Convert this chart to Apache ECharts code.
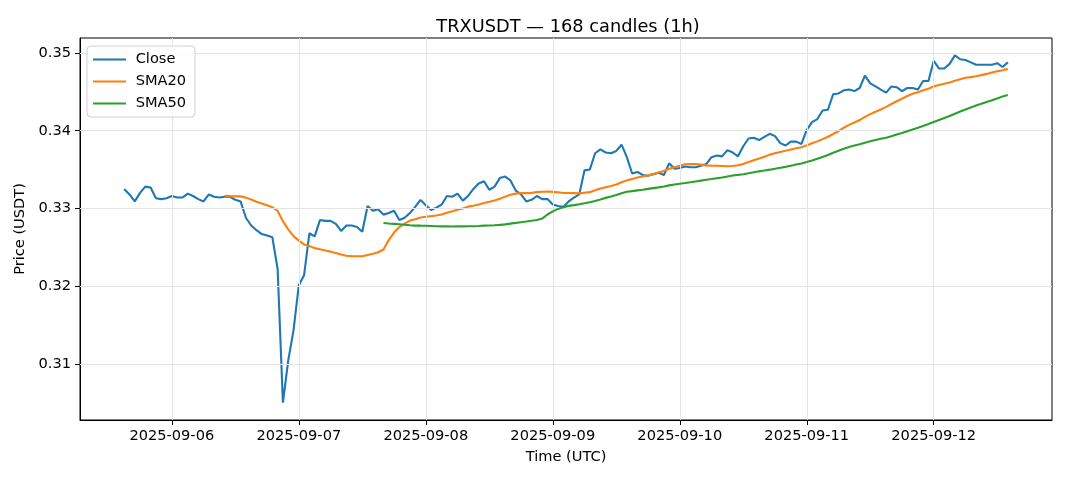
<!DOCTYPE html>
<html>
<head>
<meta charset="utf-8">
<script src="https://cdn.jsdelivr.net/npm/echarts@6/dist/echarts.min.js"></script>
<style>
html,body{margin:0;padding:0;background:#fff;}
#chart{width:1068px;height:481px;}
</style>
</head>
<body>
<div id="chart"></div>
<script>
// ---- Data ----
const titleText = 'TRXUSDT \u2014 168 candles (1h)';
const seriesNames = ['Close', 'SMA20', 'SMA50'];
const startTime = Date.UTC(2025, 8, 5, 15, 0, 0); // first candle 2025-09-05 15:00 UTC
const closeValues = [
  0.3325, 0.3318, 0.3309, 0.3320, 0.3328, 0.3327, 0.3313, 0.3312, 0.3313, 0.3316,
  0.3314, 0.3314, 0.3319, 0.3316, 0.3312, 0.3309, 0.3318, 0.3315, 0.3314, 0.3315,
  0.3315, 0.3311, 0.3309, 0.3288, 0.3278, 0.3272, 0.3267, 0.3265, 0.3263, 0.3222,
  0.3050, 0.3104, 0.3143, 0.3201, 0.3214, 0.3268, 0.3264, 0.3285, 0.3284, 0.3284,
  0.3280, 0.3271, 0.3278, 0.3278, 0.3276, 0.3270, 0.3303, 0.3297, 0.3299, 0.3292,
  0.3294, 0.3297, 0.3285, 0.3288, 0.3294, 0.3302, 0.3311, 0.3304, 0.3298, 0.3301,
  0.3305, 0.3316, 0.3315, 0.3319, 0.3310, 0.3316, 0.3325, 0.3332, 0.3335, 0.3324,
  0.3328, 0.3339, 0.3341, 0.3336, 0.3323, 0.3318, 0.3309, 0.3311, 0.3316, 0.3312,
  0.3312, 0.3305, 0.3303, 0.3302, 0.3309, 0.3314, 0.3318, 0.3349, 0.3350, 0.3371,
  0.3376, 0.3372, 0.3371, 0.3374, 0.3382, 0.3366, 0.3345, 0.3347, 0.3343, 0.3342,
  0.3344, 0.3346, 0.3343, 0.3358, 0.3351, 0.3352, 0.3354, 0.3353, 0.3353, 0.3355,
  0.3357, 0.3366, 0.3368, 0.3367, 0.3375, 0.3372, 0.3367, 0.3380, 0.3390, 0.3391,
  0.3388, 0.3392, 0.3396, 0.3393, 0.3384, 0.3381, 0.3386, 0.3386, 0.3383, 0.3401,
  0.3411, 0.3415, 0.3426, 0.3427, 0.3447, 0.3448, 0.3452, 0.3453, 0.3451, 0.3455,
  0.3471, 0.3461, 0.3457, 0.3453, 0.3449, 0.3457, 0.3456, 0.3451, 0.3455, 0.3455,
  0.3453, 0.3464, 0.3464, 0.3490, 0.3480, 0.3480, 0.3486, 0.3497, 0.3492, 0.3491,
  0.3488, 0.3485, 0.3485, 0.3485, 0.3485, 0.3487, 0.3482, 0.3488
];
const yTicks = [0.31, 0.32, 0.33, 0.34, 0.35];
const xTickLabels = ['2025-09-06', '2025-09-07', '2025-09-08', '2025-09-09', '2025-09-10', '2025-09-11', '2025-09-12'];

// ---- Derived ----
const HOUR = 3600 * 1000;
const times = closeValues.map((_, i) => startTime + i * HOUR);
function sma(values, n) {
  return values.map((_, i) => {
    if (i < n - 1) return null;
    let s = 0;
    for (let k = i - n + 1; k <= i; k++) s += values[k];
    return s / n;
  });
}
const sma20 = sma(closeValues, 20);
const sma50 = sma(closeValues, 50);
const toPairs = arr => arr.map((v, i) => [times[i], v]).filter(p => p[1] !== null);

const xTicks = xTickLabels.map(s => Date.parse(s + 'T00:00:00Z'));
const pad = (times[times.length - 1] - times[0]) * 0.05;
const xMin = times[0] - pad, xMax = times[times.length - 1] + pad;
const vMin = Math.min(...closeValues), vMax = Math.max(...closeValues);
const vPad = (vMax - vMin) * 0.05;
const yMin = vMin - vPad, yMax = vMax + vPad;

const FONT = 'DejaVu Sans';
const FS = 14.6;
const chart = echarts.init(document.getElementById('chart'), null, {renderer: 'canvas'});
const gridLineData = yTicks.map(v => ({yAxis: v})).concat(xTicks.map(t => ({xAxis: t})));

chart.setOption({
  animation: false,
  backgroundColor: '#ffffff',
  title: {
    text: titleText,
    left: 563, top: 13, textAlign: 'center',
    textStyle: {fontFamily: FONT, fontSize: 17.8, fontWeight: 'normal', color: '#000'}
  },
  legend: {
    data: seriesNames,
    orient: 'vertical',
    left: 87, top: 46,
    z: 20,
    itemWidth: 33, itemHeight: 14, itemGap: 7,
    itemStyle: {opacity: 0},
    padding: [6, 9, 6, 5],
    backgroundColor: 'rgba(255,255,255,0.85)',
    borderColor: '#d0d0d0', borderWidth: 1, borderRadius: 4,
    textStyle: {fontFamily: FONT, fontSize: FS, color: '#000'},
    formatter: name => ' ' + name
  },
  grid: {left: 80, right: 16, top: 38, bottom: 61, show: true, borderColor: '#000', borderWidth: 1, backgroundColor: 'transparent'},
  xAxis: {
    type: 'value', min: xMin, max: xMax,
    name: 'Time (UTC)', nameLocation: 'middle', nameGap: 30,
    nameTextStyle: {fontFamily: FONT, fontSize: FS, color: '#000'},
    axisLine: {show: true, lineStyle: {color: '#000', width: 1}},
    axisTick: {show: true, length: 5, inside: false, customValues: xTicks, lineStyle: {color: '#000'}},
    axisLabel: {customValues: xTicks, margin: 9, fontFamily: FONT, fontSize: FS, color: '#000',
      formatter: v => new Date(v).toISOString().slice(0, 10)},
    splitLine: {show: false}
  },
  yAxis: {
    type: 'value', min: yMin, max: yMax,
    name: 'Price (USDT)', nameLocation: 'middle', nameGap: 51,
    nameTextStyle: {fontFamily: FONT, fontSize: FS, color: '#000'},
    axisLine: {show: true, lineStyle: {color: '#000', width: 1}},
    axisTick: {show: true, length: 5, inside: false, customValues: yTicks, lineStyle: {color: '#000'}},
    axisLabel: {customValues: yTicks, margin: 9, fontFamily: FONT, fontSize: FS, color: '#000',
      formatter: v => v.toFixed(2)},
    splitLine: {show: false}
  },
  series: [
    {
      name: '_grid', type: 'line', data: [], silent: true, legendHoverLink: false,
      markLine: {silent: true, symbol: 'none', label: {show: false},
        lineStyle: {color: '#e4e4e4', width: 1, type: 'solid'}, data: gridLineData, animation: false},
      z: 0
    },
    {name: 'Close', type: 'line', data: toPairs(closeValues), showSymbol: false, symbol: 'none',
      lineStyle: {color: '#1f77b4', width: 2.1}, itemStyle: {color: '#1f77b4'}, z: 3},
    {name: 'SMA20', type: 'line', data: toPairs(sma20), showSymbol: false, symbol: 'none',
      lineStyle: {color: '#ff7f0e', width: 2.1}, itemStyle: {color: '#ff7f0e'}, z: 4},
    {name: 'SMA50', type: 'line', data: toPairs(sma50), showSymbol: false, symbol: 'none',
      lineStyle: {color: '#2ca02c', width: 2.1}, itemStyle: {color: '#2ca02c'}, z: 5}
  ]
});
</script>
</body>
</html>
